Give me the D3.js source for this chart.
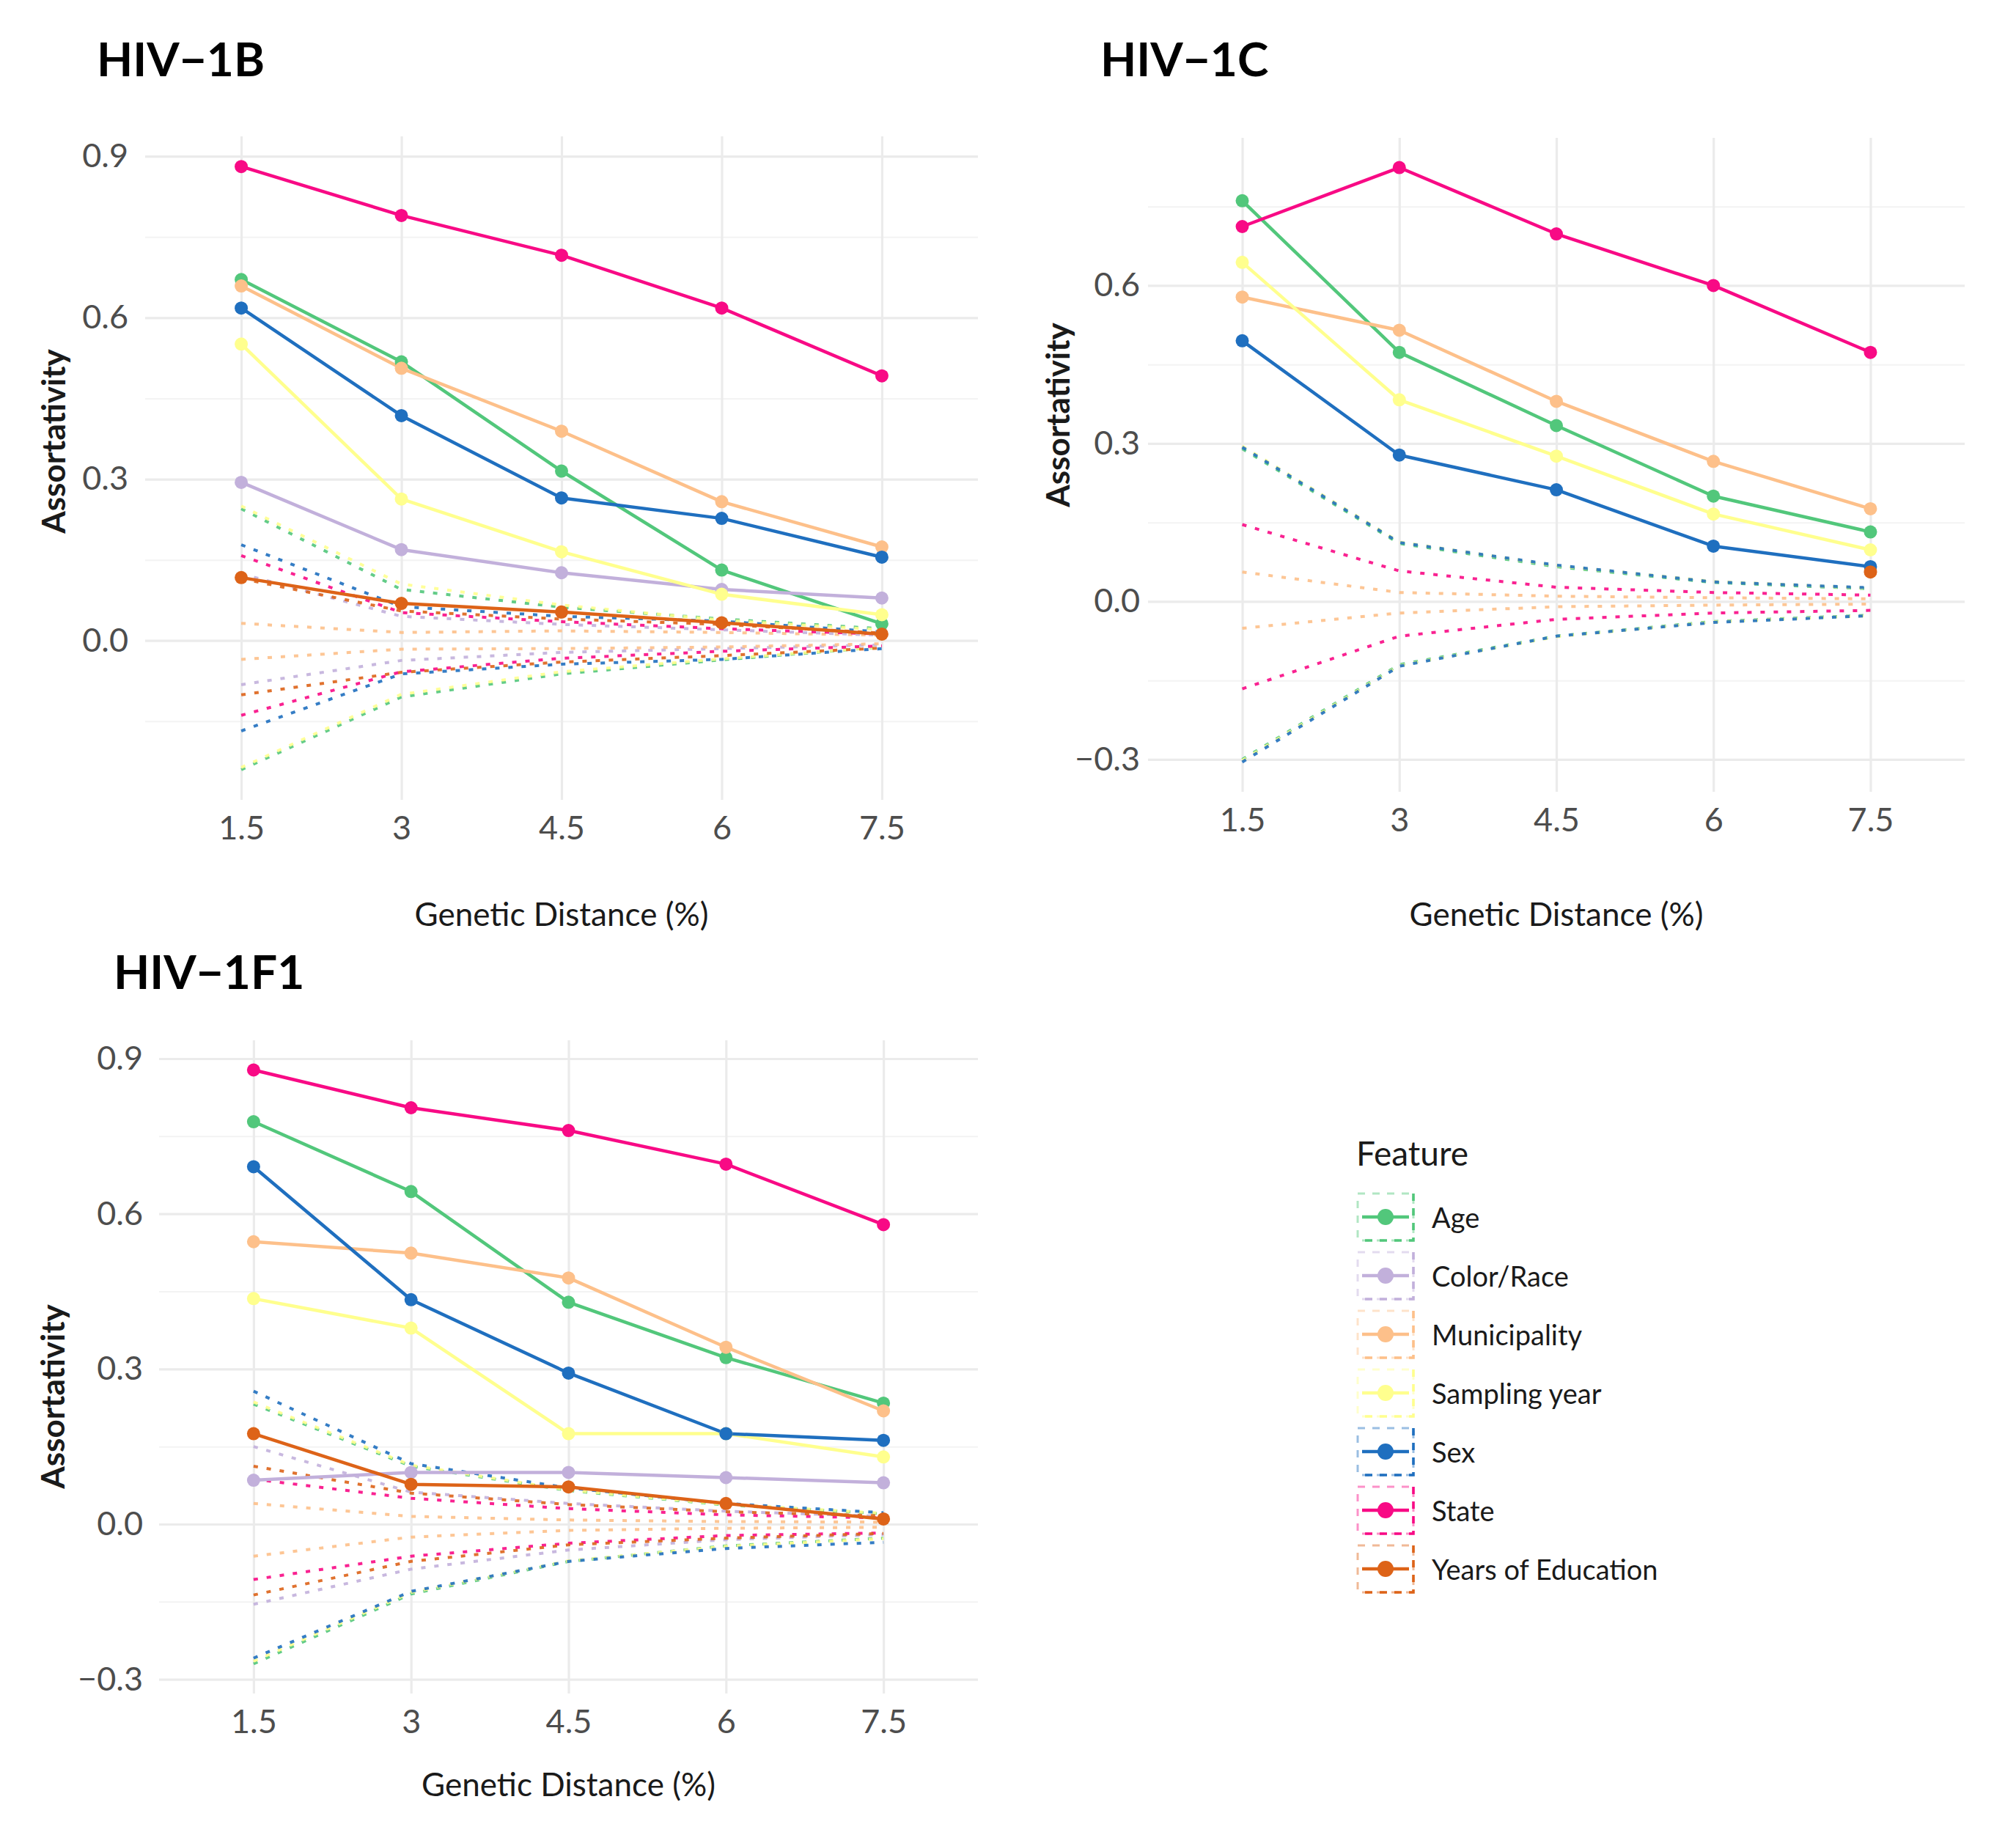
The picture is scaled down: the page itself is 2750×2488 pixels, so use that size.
<!DOCTYPE html>
<html>
<head>
<meta charset="utf-8">
<script src="https://cdn.jsdelivr.net/npm/d3@7"></script>
<style>
  body { margin: 0; background: #fff; }
  svg { display: block; }
</style>
</head>
<body>
<div id="chart"></div>
<script>
//// DATA

const distances = ["1.5", "3", "4.5", "6", "7.5"];
const features = ["Age", "Color/Race", "Municipality", "Sampling year", "Sex", "State", "Years of Education"];
const featureColors = ["#52c77b", "#c2b0db", "#fdc08a", "#ffff8e", "#1f6fbf", "#f80a85", "#dd6318"];

// rows follow the order of `features`, columns follow `distances`
const hiv1bObserved = [
  [0.671, 0.518, 0.315, 0.131, 0.031],
  [0.294, 0.169, 0.126, 0.095, 0.079],
  [0.659, 0.506, 0.389, 0.258, 0.174],
  [0.551, 0.263, 0.165, 0.086, 0.048],
  [0.618, 0.418, 0.265, 0.227, 0.155],
  [0.881, 0.790, 0.716, 0.618, 0.492],
  [0.117, 0.069, 0.053, 0.033, 0.012],
];
const hiv1bUpper = [
  [0.245, 0.095, 0.062, 0.040, 0.022],
  [0.124, 0.045, 0.030, 0.020, 0.010],
  [0.032, 0.015, 0.018, 0.015, 0.010],
  [0.250, 0.105, 0.066, 0.038, 0.020],
  [0.178, 0.063, 0.045, 0.036, 0.016],
  [0.158, 0.052, 0.035, 0.022, 0.012],
  [0.115, 0.055, 0.040, 0.030, 0.014],
];
const hiv1bLower = [
  [-0.240, -0.105, -0.062, -0.036, -0.012],
  [-0.082, -0.037, -0.022, -0.015, -0.008],
  [-0.035, -0.016, -0.015, -0.012, -0.006],
  [-0.236, -0.100, -0.058, -0.034, -0.012],
  [-0.168, -0.062, -0.044, -0.035, -0.015],
  [-0.139, -0.058, -0.033, -0.020, -0.010],
  [-0.101, -0.059, -0.040, -0.028, -0.014],
];

const hiv1cObserved = [
  [0.761, 0.473, 0.334, 0.200, 0.132],
  [null, null, null, null, null],
  [0.578, 0.515, 0.380, 0.266, 0.176],
  [0.644, 0.383, 0.276, 0.166, 0.098],
  [0.495, 0.278, 0.212, 0.105, 0.066],
  [0.712, 0.824, 0.698, 0.600, 0.473],
  [null, null, null, null, 0.056],
];
const hiv1cUpper = [
  [0.290, 0.110, 0.066, 0.036, 0.024],
  [null, null, null, null, null],
  [0.056, 0.017, 0.010, 0.007, 0.005],
  [0.295, 0.113, 0.068, 0.038, 0.025],
  [0.293, 0.112, 0.069, 0.037, 0.026],
  [0.146, 0.058, 0.027, 0.017, 0.012],
  [null, null, null, null, null],
];
const hiv1cLower = [
  [-0.300, -0.120, -0.066, -0.038, -0.026],
  [null, null, null, null, null],
  [-0.051, -0.022, -0.010, -0.007, -0.005],
  [-0.302, -0.122, -0.067, -0.039, -0.027],
  [-0.305, -0.123, -0.066, -0.040, -0.027],
  [-0.166, -0.066, -0.034, -0.022, -0.017],
  [null, null, null, null, null],
];

const hiv1f1Observed = [
  [0.778, 0.643, 0.429, 0.322, 0.234],
  [0.085, 0.100, 0.100, 0.090, 0.080],
  [0.546, 0.524, 0.476, 0.342, 0.219],
  [0.436, 0.379, 0.175, 0.175, 0.130],
  [0.691, 0.434, 0.292, 0.175, 0.162],
  [0.878, 0.805, 0.761, 0.696, 0.579],
  [0.175, 0.077, 0.072, 0.040, 0.010],
];
const hiv1f1Upper = [
  [0.232, 0.112, 0.065, 0.037, 0.020],
  [0.150, 0.062, 0.040, 0.025, 0.015],
  [0.040, 0.015, 0.008, 0.005, 0.004],
  [0.236, 0.114, 0.066, 0.038, 0.021],
  [0.257, 0.117, 0.070, 0.040, 0.022],
  [0.087, 0.050, 0.030, 0.018, 0.012],
  [0.112, 0.060, 0.038, 0.024, 0.016],
];
const hiv1f1Lower = [
  [-0.270, -0.135, -0.072, -0.042, -0.027],
  [-0.155, -0.087, -0.050, -0.030, -0.020],
  [-0.062, -0.025, -0.012, -0.008, -0.006],
  [-0.265, -0.132, -0.071, -0.043, -0.028],
  [-0.259, -0.130, -0.072, -0.047, -0.035],
  [-0.107, -0.062, -0.037, -0.022, -0.017],
  [-0.137, -0.072, -0.040, -0.027, -0.018],
];

//// LAYOUT

const WIDTH = 2750, HEIGHT = 2488;
const FONT = "Lato, 'Open Sans', sans-serif";
const TEXT_GREY = "#4d4d4d";
const BOUND_DASH = "6,12";

const PANELS = [
  { title: "HIV\u22121B", observed: hiv1bObserved, upper: hiv1bUpper, lower: hiv1bLower,
    x0: 198, x1: 1334, y0: 186, y1: 1091, titleX: 132, titleY: 104, labelPad: 23,
    yTitleX: 72, yTitleY: 602, xTitleY: 1263 },
  { title: "HIV\u22121C", observed: hiv1cObserved, upper: hiv1cUpper, lower: hiv1cLower,
    x0: 1566, x1: 2680, y0: 188, y1: 1080, titleX: 1501, titleY: 104, labelPad: 11,
    yTitleX: 1442, yTitleY: 566, xTitleY: 1263 },
  { title: "HIV\u22121F1", observed: hiv1f1Observed, upper: hiv1f1Upper, lower: hiv1f1Lower,
    x0: 217, x1: 1334, y0: 1419, y1: 2310, titleX: 155, titleY: 1349, labelPad: 22,
    yTitleX: 71, yTitleY: 1905, xTitleY: 2450 },
];

const LEGEND = { x: 1852, titleY: 1590, firstY: 1660, step: 80, keyW: 76, keyH: 64, textX: 1953 };

const svg = d3.select("#chart").append("svg")
  .attr("width", WIDTH)
  .attr("height", HEIGHT)
  .attr("viewBox", `0 0 ${WIDTH} ${HEIGHT}`)
  .style("font-family", FONT);

svg.append("rect").attr("width", WIDTH).attr("height", HEIGHT).attr("fill", "#fff");

const toSeries = (rows) => rows.map((vals, i) => ({
  feature: features[i],
  color: featureColors[i],
  values: vals.map((v, k) => ({ d: distances[k], v }))
}));

const drawPanel = (p) => {
  const observed = toSeries(p.observed);
  const bounds = toSeries(p.upper).concat(toSeries(p.lower));

  const all = [p.observed, p.upper, p.lower].flat(2).filter(v => v !== null);
  const [lo, hi] = d3.extent(all);
  const pad = (hi - lo) * 0.05;

  const x = d3.scalePoint().domain(distances).range([p.x0, p.x1]).padding(0.6);
  const y = d3.scaleLinear().domain([lo - pad, hi + pad]).range([p.y1, p.y0]);

  const [dmin, dmax] = y.domain();
  const majors = d3.range(Math.ceil(dmin / 0.3), Math.floor(dmax / 0.3) + 1).map(k => +(k * 0.3).toFixed(2));
  const minors = d3.range(Math.ceil(dmin / 0.3 - 0.5), Math.floor(dmax / 0.3 - 0.5) + 1)
    .map(k => +((k + 0.5) * 0.3).toFixed(2));

  const g = svg.append("g");

  // grid
  g.append("g").attr("class", "grid-minor")
    .attr("transform", `translate(${p.x0},0)`)
    .call(d3.axisLeft(y).tickValues(minors).tickSize(-(p.x1 - p.x0)).tickFormat(""))
    .call(s => s.select(".domain").remove())
    .call(s => s.selectAll("line").attr("stroke", "#f3f3f3").attr("stroke-width", 2));

  g.append("g").attr("class", "grid-major-y")
    .attr("transform", `translate(${p.x0},0)`)
    .call(d3.axisLeft(y).tickValues(majors).tickSize(-(p.x1 - p.x0)).tickFormat(""))
    .call(s => s.select(".domain").remove())
    .call(s => s.selectAll("line").attr("stroke", "#ebebeb").attr("stroke-width", 3.2));

  g.append("g").attr("class", "grid-major-x")
    .attr("transform", `translate(0,${p.y1})`)
    .call(d3.axisBottom(x).tickSize(-(p.y1 - p.y0)).tickFormat(""))
    .call(s => s.select(".domain").remove())
    .call(s => s.selectAll("line").attr("stroke", "#ebebeb").attr("stroke-width", 3.2));

  // axis labels
  g.append("g")
    .attr("transform", `translate(${p.x0},0)`)
    .call(d3.axisLeft(y).tickValues(majors).tickSize(0).tickPadding(p.labelPad).tickFormat(d3.format(".1f")))
    .call(s => s.select(".domain").remove())
    .call(s => s.selectAll("text").attr("fill", TEXT_GREY).style("font-size", "45px").style("font-family", FONT));

  g.append("g")
    .attr("transform", `translate(0,${p.y1})`)
    .call(d3.axisBottom(x).tickSize(0).tickPadding(22))
    .call(s => s.select(".domain").remove())
    .call(s => s.selectAll("text").attr("fill", TEXT_GREY).style("font-size", "45px").style("font-family", FONT));

  // null-model bounds (dashed)
  const line = d3.line()
    .defined(d => d.v !== null)
    .x(d => x(d.d))
    .y(d => y(d.v));

  g.append("g").attr("class", "bounds")
    .selectAll("path")
    .data(bounds)
    .join("path")
    .attr("d", s => line(s.values))
    .attr("fill", "none")
    .attr("stroke", s => s.color)
    .attr("stroke-width", 4)
    .attr("stroke-dasharray", BOUND_DASH)
    .attr("opacity", 0.9);

  // observed assortativity
  g.append("g").attr("class", "observed")
    .selectAll("path")
    .data(observed)
    .join("path")
    .attr("d", s => line(s.values))
    .attr("fill", "none")
    .attr("stroke", s => s.color)
    .attr("stroke-width", 4.5)
    .attr("stroke-linejoin", "round");

  g.append("g").attr("class", "points")
    .selectAll("g")
    .data(observed)
    .join("g")
    .attr("fill", s => s.color)
    .selectAll("circle")
    .data(s => s.values.filter(d => d.v !== null))
    .join("circle")
    .attr("cx", d => x(d.d))
    .attr("cy", d => y(d.v))
    .attr("r", 9);

  // titles
  g.append("text")
    .attr("x", p.titleX).attr("y", p.titleY)
    .attr("font-size", 64).attr("font-weight", "bold").attr("fill", "#000")
    .text(p.title);

  g.append("text")
    .attr("x", (p.x0 + p.x1) / 2).attr("y", p.xTitleY)
    .attr("text-anchor", "middle")
    .attr("font-size", 44).attr("fill", "#1a1a1a")
    .text("Genetic Distance (%)");

  g.append("text")
    .attr("transform", `translate(${p.yTitleX},${p.yTitleY}) rotate(-90)`)
    .attr("text-anchor", "middle")
    .attr("dominant-baseline", "central")
    .attr("font-size", 44).attr("font-weight", "bold").attr("fill", "#1a1a1a")
    .text("Assortativity");
};

PANELS.forEach(drawPanel);

//// LEGEND

const legend = svg.append("g").attr("class", "legend");

legend.append("text")
  .attr("x", LEGEND.x - 2).attr("y", LEGEND.titleY)
  .attr("font-size", 46).attr("fill", "#1a1a1a")
  .text("Feature");

const keys = legend.selectAll("g.key")
  .data(features.map((f, i) => ({ f, color: featureColors[i], cy: LEGEND.firstY + i * LEGEND.step })))
  .join("g")
  .attr("class", "key")
  .attr("transform", d => `translate(${LEGEND.x},${d.cy})`);

keys.append("rect")
  .attr("x", 0).attr("y", -LEGEND.keyH / 2)
  .attr("width", LEGEND.keyW).attr("height", LEGEND.keyH)
  .attr("fill", "none")
  .attr("stroke", d => d.color)
  .attr("stroke-width", 3)
  .attr("stroke-dasharray", "10,10")
  .attr("opacity", 0.45);

keys.append("path")
  .attr("d", `M${LEGEND.keyW},${-LEGEND.keyH / 2}V${LEGEND.keyH / 2}H0`)
  .attr("fill", "none")
  .attr("stroke", d => d.color)
  .attr("stroke-width", 3.6)
  .attr("stroke-dasharray", "10,10");

keys.append("line")
  .attr("x1", 6).attr("x2", LEGEND.keyW - 6)
  .attr("stroke", d => d.color)
  .attr("stroke-width", 4.5);

keys.append("circle")
  .attr("cx", LEGEND.keyW / 2).attr("cy", 0).attr("r", 11)
  .attr("fill", d => d.color);

keys.append("text")
  .attr("x", LEGEND.textX - LEGEND.x).attr("y", 0)
  .attr("dominant-baseline", "central")
  .attr("font-size", 38).attr("fill", "#1a1a1a")
  .text(d => d.f);
</script>
</body>
</html>
